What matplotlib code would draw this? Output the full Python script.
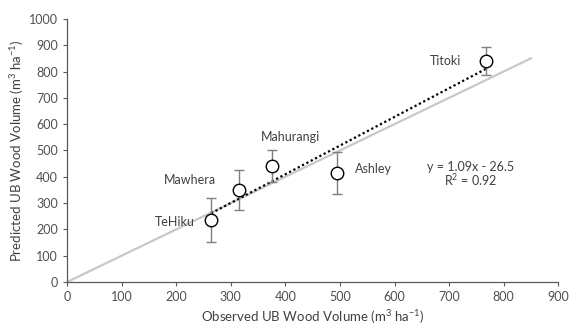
import matplotlib.pyplot as plt
import numpy as np

plt.rcParams['font.family'] = ['Lato', 'DejaVu Sans']
plt.rcParams['mathtext.fontset'] = 'custom'
plt.rcParams['mathtext.rm'] = 'Lato'
plt.rcParams['mathtext.it'] = 'Lato:italic'
plt.rcParams['mathtext.bf'] = 'Lato:bold'
plt.rcParams['mathtext.default'] = 'regular'

# Data
sites = ['TeHiku', 'Mawhera', 'Mahurangi', 'Ashley', 'Titoki']
observed = [264, 315, 376, 495, 768]
predicted = [236, 350, 441, 414, 840]
pred_err = [85, 75, 60, 80, 52]

label_x = [198, 225, 410, 561, 693]
label_y = [228, 388, 551, 430, 840]

slope = 1.09
intercept = -26.5
r2 = 0.92


def main():
    fig = plt.figure(figsize=(5.69, 3.26), dpi=100)
    ax = fig.add_axes([0.118, 0.135, 0.863, 0.807])

    # 1:1 line
    ax.plot([0, 850], [0, 850], color='#c8c8c8', lw=1.6, zorder=1)

    # fitted trend line
    xs = np.array([min(observed), max(observed)])
    ax.plot(xs, slope * xs + intercept, color='black', lw=1.6,
            linestyle=(0, (1, 1.2)), zorder=2)

    ax.errorbar(observed, predicted, yerr=pred_err, fmt='o', ms=9,
                mfc='white', mec='black', mew=1.0, ecolor='#7f7f7f',
                elinewidth=1.0, capsize=3.5, capthick=1.0, zorder=3)

    for name, lx, ly in zip(sites, label_x, label_y):
        ax.text(lx, ly, name, ha='center', va='center', fontsize=9,
                color='#404040')

    ax.text(739, 437, f'y = {slope:.2f}x - {abs(intercept):.1f}',
            ha='center', va='center', fontsize=9, color='#404040')
    ax.text(739, 388, f'R$^2$ = {r2:.2f}', ha='center', va='center',
            fontsize=9, color='#404040')

    ax.set_xlim(0, 900)
    ax.set_ylim(0, 1000)
    ax.set_xticks(range(0, 901, 100))
    ax.set_yticks(range(0, 1001, 100))
    ax.tick_params(direction='out', length=3, width=0.8, colors='#595959',
                   labelsize=9, labelcolor='#505050')
    for s in ['top', 'right']:
        ax.spines[s].set_visible(False)
    for s in ['left', 'bottom']:
        ax.spines[s].set_color('#595959')
        ax.spines[s].set_linewidth(0.9)

    ax.set_xlabel('Observed UB Wood Volume (m$^3$ ha$^{-1}$)', fontsize=9.5,
                  color='#404040', labelpad=4)
    ax.set_ylabel('Predicted UB Wood Volume (m$^3$ ha$^{-1}$)', fontsize=9.5,
                  color='#404040', labelpad=2)

    fig.savefig('out.png', dpi=100)


if __name__ == "__main__":
    main()
